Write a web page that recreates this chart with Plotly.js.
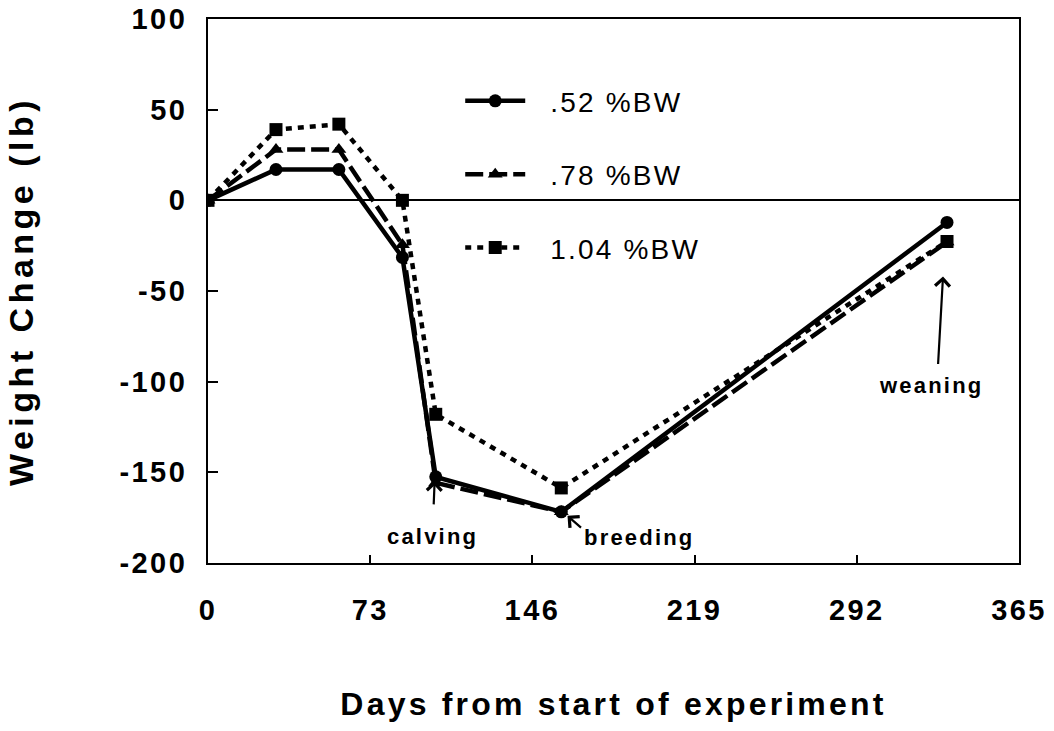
<!DOCTYPE html>
<html>
<head>
<meta charset="utf-8">
<script src="https://cdn.plot.ly/plotly-3.0.1.min.js"></script>
<style>
html,body{margin:0;padding:0;background:#fff;}
#chart{width:1054px;height:731px;}
.xtitle{letter-spacing:3.2px;}
.ytitle{letter-spacing:4.5px;}
.xtick text,.ytick text{letter-spacing:2.4px;}
.legendtext{letter-spacing:2.2px;}
.annotation-text{letter-spacing:2.2px;}
</style>
</head>
<body>
<div id="chart"></div>
<script>
// Data
const days = [0, 30.6, 58.9, 87.5, 102.5, 159, 332.6];
const bw052 = [0, 17, 17, -31.5, -152.5, -171.8, -12.2];
const bw078 = [0, 28, 28, -24.5, -155.8, -171.8, -23];
const bw104 = [0, 39, 42, 0, -118, -158.6, -22.7];
const seriesNames = [".52 %BW", ".78 %BW", "1.04 %BW"];
const xTicks = [0, 73, 146, 219, 292, 365];
const yTicks = [-200, -150, -100, -50, 0, 50, 100];

const FONT = "Liberation Sans, Arial, sans-serif";
const PAD = "\u00a0\u00a0";

function tr(y, name, sym, dash, grp) {
  return {
    x: days, y: y, name: PAD + name, type: "scatter", mode: "lines+markers",
    line: {color: "#000", width: 4.5, dash: dash},
    marker: {symbol: sym, size: 13, color: "#000"},
    legendgroup: grp
  };
}
const data = [
  tr(bw052, seriesNames[0], "circle", "solid", "a"),
  tr(bw078, seriesNames[1], "triangle-up", "18px,6px", "b"),
  tr(bw104, seriesNames[2], "square", "6px,6px", "c")
];

const annFont = {family: FONT, size: 22, color: "#000", weight: "bold"};
const arrow = {text: "", showarrow: true, arrowhead: 4, arrowsize: 1.3, arrowwidth: 2.2, arrowcolor: "#000"};
const layout = {
  width: 1054, height: 731,
  paper_bgcolor: "#fff", plot_bgcolor: "#fff",
  margin: {l: 208, r: 35, t: 19, b: 168},
  font: {family: FONT, color: "#000"},
  showlegend: true,
  legend: {
    x: 0.311, y: 0.895, xanchor: "left", yanchor: "top",
    bgcolor: "rgba(0,0,0,0)", borderwidth: 0,
    font: {family: FONT, size: 28, color: "#000"},
    itemwidth: 60, tracegroupgap: 34, traceorder: "grouped"
  },
  xaxis: {
    range: [0, 365], tickvals: xTicks, ticktext: xTicks.map(String),
    showgrid: false, zeroline: false, showline: true, mirror: true, linecolor: "#000", linewidth: 2,
    ticks: "inside", ticklen: 8, tickwidth: 2, tickcolor: "#000",
    ticklabelstandoff: 20,
    tickfont: {family: FONT, size: 29, color: "#000", weight: "bold"},
    title: {text: "Days from start of experiment", standoff: 68,
      font: {family: FONT, size: 32, color: "#000", weight: "bold"}}
  },
  yaxis: {
    range: [-200, 100], tickvals: yTicks, ticktext: yTicks.map(String),
    showgrid: false, zeroline: true, zerolinecolor: "#000", zerolinewidth: 1.8,
    showline: true, mirror: true, linecolor: "#000", linewidth: 2,
    ticks: "inside", ticklen: 10, tickwidth: 2, tickcolor: "#000",
    ticklabelstandoff: 13,
    tickfont: {family: FONT, size: 29, color: "#000", weight: "bold"},
    title: {text: "Weight Change (lb)", standoff: 76,
      font: {family: FONT, size: 34, color: "#000", weight: "bold"}}
  },
  annotations: [
    {x: 101.1, y: -185.6, text: "calving", showarrow: false, font: annFont},
    Object.assign({x: 102, y: -154.7, ax: -1, ay: 25}, arrow),
    {x: 194.2, y: -186.2, text: "breeding", showarrow: false, font: annFont},
    Object.assign({x: 161.8, y: -174, ax: 15, ay: 13}, arrow),
    {x: 325.4, y: -102.2, text: "weaning", showarrow: false, font: annFont},
    Object.assign({x: 330.8, y: -42, ax: -5, ay: 89}, arrow)
  ]
};

Plotly.newPlot("chart", data, layout, {displayModeBar: false, staticPlot: true});
</script>
</body>
</html>
